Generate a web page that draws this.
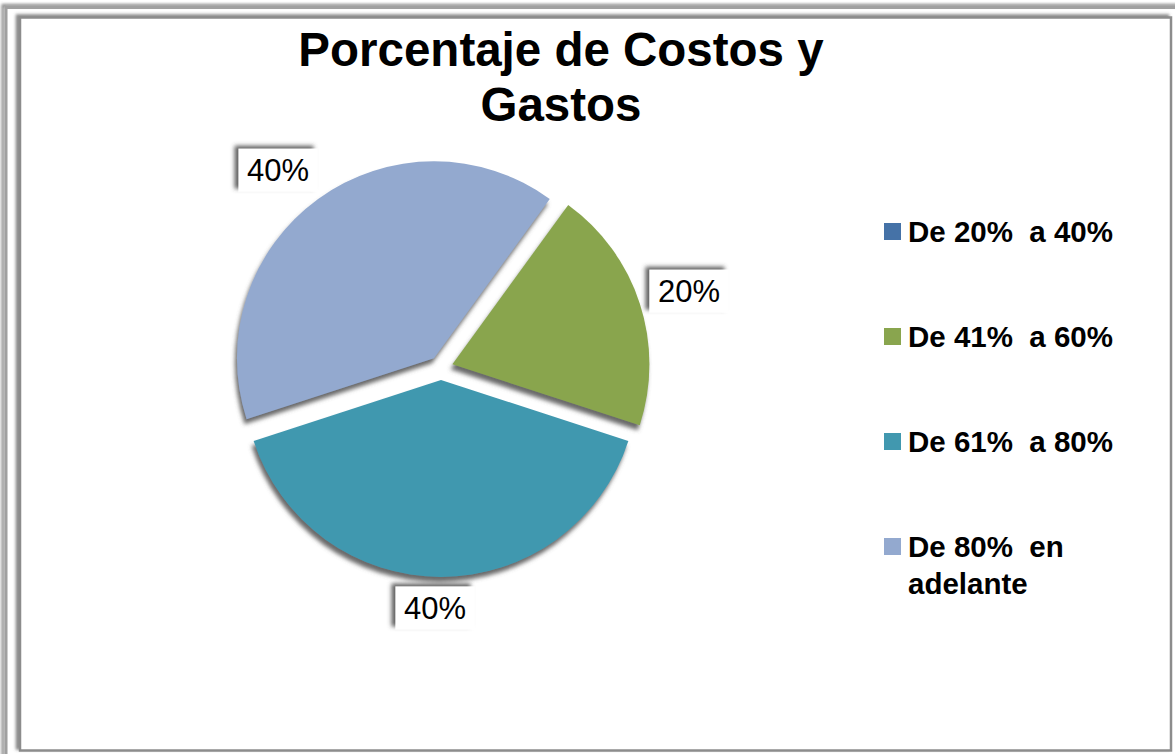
<!DOCTYPE html>
<html>
<head>
<meta charset="utf-8">
<script src="https://cdn.jsdelivr.net/npm/d3@7"></script>
<style>
  body { margin: 0; background: #fff; }
  svg { display: block; font-family: 'Liberation Sans', Arial, sans-serif; }
</style>
</head>
<body>
<div id="chart"></div>
<script>
const categories = ['De 20%  a 40%', 'De 41%  a 60%', 'De 61%  a 80%', 'De 80%  en|adelante']
const values = [0, 20, 40, 40]
const colors = ['#4572A7', '#89A54E', '#4198AF', '#93A9CF']
const titleLines = ['Porcentaje de Costos y', 'Gastos']

const width = 1175
const height = 754

const svg = d3
  .select('#chart')
  .append('svg')
  .attr('width', width)
  .attr('height', height)

const defs = svg.append('defs')

defs
  .append('filter')
  .attr('id', 'pie-shadow')
  .attr('x', '-20%')
  .attr('y', '-20%')
  .attr('width', '140%')
  .attr('height', '140%')
  .append('feDropShadow')
  .attr('dx', -2)
  .attr('dy', 5)
  .attr('stdDeviation', 2.2)
  .attr('flood-color', '#5a5a5a')
  .attr('flood-opacity', 0.9)

defs
  .append('filter')
  .attr('id', 'box-shadow')
  .attr('x', '-30%')
  .attr('y', '-30%')
  .attr('width', '160%')
  .attr('height', '160%')
  .append('feDropShadow')
  .attr('dx', -4)
  .attr('dy', -3)
  .attr('stdDeviation', 2)
  .attr('flood-color', '#444')
  .attr('flood-opacity', 0.85)

defs
  .append('filter')
  .attr('id', 'frame-shadow')
  .attr('x', '-5%')
  .attr('y', '-5%')
  .attr('width', '110%')
  .attr('height', '110%')
  .append('feDropShadow')
  .attr('dx', -3)
  .attr('dy', -2)
  .attr('stdDeviation', 1.8)
  .attr('flood-color', '#555')
  .attr('flood-opacity', 0.7)

// frame
svg
  .append('rect')
  .attr('x', 6)
  .attr('y', 7.5)
  .attr('width', 1180)
  .attr('height', 760)
  .attr('fill', 'none')
  .attr('stroke', '#a0a0a0')
  .attr('stroke-width', 3)
  .attr('filter', 'url(#frame-shadow)')

svg
  .append('rect')
  .attr('x', 20)
  .attr('y', 17.5)
  .attr('width', 1151)
  .attr('height', 733)
  .attr('fill', '#fff')
  .attr('stroke', '#8c8c8c')
  .attr('stroke-width', 2.5)
  .attr('filter', 'url(#frame-shadow)')

// title
svg
  .append('text')
  .attr('x', 561)
  .attr('y', 66)
  .attr('text-anchor', 'middle')
  .attr('font-size', 47.5)
  .attr('font-weight', 'bold')
  .attr('fill', '#000')
  .selectAll('tspan')
  .data(titleLines)
  .enter()
  .append('tspan')
  .attr('x', 561)
  .attr('dy', (d, i) => (i === 0 ? 0 : 55))
  .text(d => d)

// pie
const cx = 441
const cy = 368
const radius = 197
const explode = 12

const startAngle = (36 * Math.PI) / 180
const pie = d3
  .pie()
  .sort(null)
  .startAngle(startAngle)
  .endAngle(startAngle + 2 * Math.PI)

const arcs = pie(values)

const arc = d3
  .arc()
  .innerRadius(0)
  .outerRadius(radius)

const pieG = svg.append('g').attr('transform', 'translate(' + cx + ',' + cy + ')')

function mid(d) {
  return (d.startAngle + d.endAngle) / 2
}

pieG
  .selectAll('path')
  .data(arcs.filter(d => d.value > 0))
  .enter()
  .append('path')
  .attr('d', arc)
  .attr('fill', d => colors[d.index])
  .attr('filter', 'url(#pie-shadow)')
  .attr('transform', d => {
    const a = mid(d)
    return 'translate(' + Math.sin(a) * explode + ',' + -Math.cos(a) * explode + ')'
  })

// data labels
const total = d3.sum(values)
const labelRx = 267
const labelRy = 242
const boxW = 79
const boxH = 43

const labels = pieG
  .selectAll('g.label')
  .data(arcs.filter(d => d.value > 0))
  .enter()
  .append('g')
  .attr('class', 'label')
  .attr('transform', d => {
    const a = mid(d)
    return 'translate(' + (Math.sin(a) * labelRx - 6) + ',' + (-Math.cos(a) * labelRy - 2) + ')'
  })

labels
  .append('rect')
  .attr('x', -boxW / 2)
  .attr('y', -boxH / 2)
  .attr('width', boxW)
  .attr('height', boxH)
  .attr('fill', '#fff')
  .attr('filter', 'url(#box-shadow)')

labels
  .append('text')
  .attr('text-anchor', 'middle')
  .attr('y', 11)
  .attr('font-size', 31)
  .attr('fill', '#000')
  .text(d => Math.round((d.value / total) * 100) + '%')

// legend
const legend = svg
  .append('g')
  .attr('transform', 'translate(884,223)')

const rows = legend
  .selectAll('g')
  .data(categories)
  .enter()
  .append('g')
  .attr('transform', (d, i) => 'translate(0,' + i * 105 + ')')

rows
  .append('rect')
  .attr('width', 17)
  .attr('height', 17)
  .attr('fill', (d, i) => colors[i])

rows
  .append('text')
  .attr('x', 24)
  .attr('y', 19)
  .attr('font-size', 29.5)
  .attr('font-weight', 'bold')
  .attr('fill', '#000')
  .style('white-space', 'pre')
  .selectAll('tspan')
  .data(d => d.split('|'))
  .enter()
  .append('tspan')
  .attr('x', 24)
  .attr('dy', (d, i) => (i === 0 ? 0 : 37))
  .text(d => d)
</script>
</body>
</html>
